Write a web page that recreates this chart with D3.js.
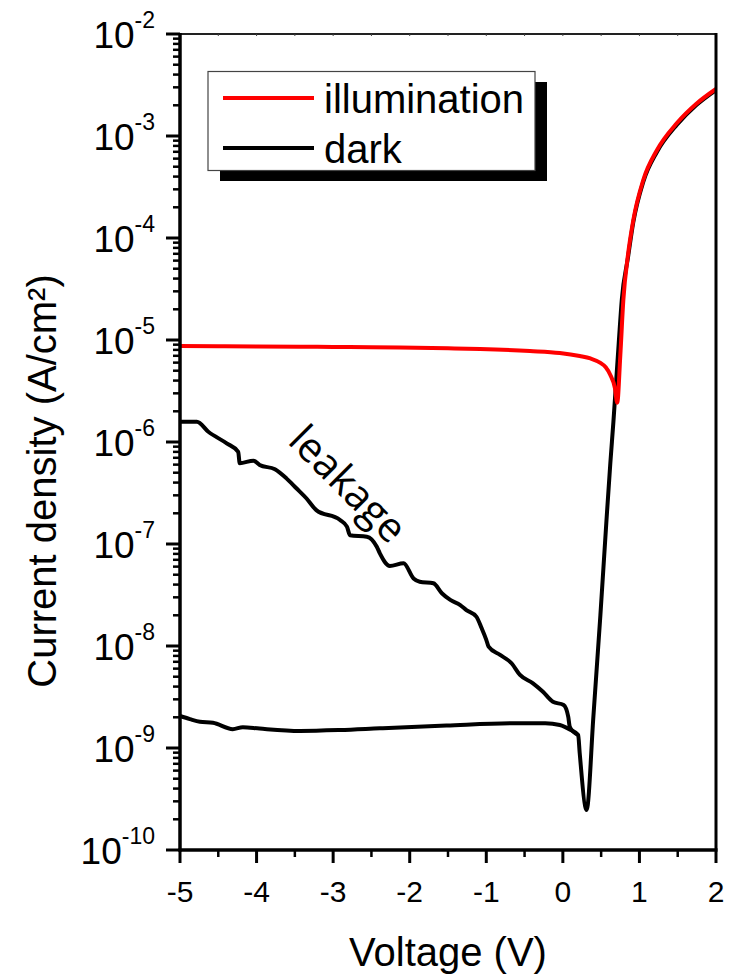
<!DOCTYPE html>
<html>
<head>
<meta charset="utf-8">
<script src="https://cdn.jsdelivr.net/npm/d3@7/dist/d3.min.js"></script>
<style>
  html, body { margin: 0; padding: 0; background: #fff; }
  svg { display: block; }
  text { font-family: "Liberation Sans", Arial, sans-serif; fill: #000; }
</style>
</head>
<body>
<svg id="chart" width="730" height="974"></svg>
<script>
// ---------- data ----------
const illumV = [-5, -4.5, -4, -3.43, -3, -2.5, -2.13, -1.5, -1.08, -0.43, -0.04, 0.22, 0.36, 0.49, 0.56, 0.62, 0.68, 0.71, 0.75, 0.79, 0.85, 0.92, 1.05, 1.23, 1.49, 1.74, 2.0];
const illumJ = [8.73e-6, 8.7e-6, 8.65e-6, 8.6e-6, 8.55e-6, 8.5e-6, 8.45e-6, 8.3e-6, 8.17e-6, 7.8e-6, 7.46e-6, 6.97e-6, 6.6e-6, 5.96e-6, 5.4e-6, 4.54e-6, 3.38e-6, 2.43e-6, 7e-6, 2.47e-5, 6.8e-5, 1.5e-4, 3.7e-4, 7.3e-4, 1.34e-3, 2.06e-3, 2.89e-3];

const darkV = [-5, -4.87, -4.74, -4.57, -4.31, -4.18, -3.96, -3.43, -2.91, -2.39, -1.52, -0.65, -0.23, -0.04, 0.09, 0.2, 0.22, 0.31, 0.4, 0.49, 0.57, 0.62, 0.66, 0.73, 0.77, 0.85, 0.92, 1.05, 1.23, 1.49, 1.74, 2.0];
const darkJ = [2.06e-9, 1.92e-9, 1.81e-9, 1.77e-9, 1.53e-9, 1.6e-9, 1.55e-9, 1.47e-9, 1.5e-9, 1.56e-9, 1.66e-9, 1.75e-9, 1.75e-9, 1.68e-9, 1.52e-9, 1.34e-9, 8.9e-10, 2.47e-10, 2.1e-9, 2.0e-8, 1.72e-7, 6.2e-7, 1.57e-6, 9.4e-6, 2.5e-5, 6.4e-5, 1.43e-4, 3.55e-4, 7.0e-4, 1.29e-3, 2.0e-3, 2.82e-3];

const leakV = [-5, -4.78, -4.63, -4.39, -4.24, -4.22, -4.04, -3.96, -3.76, -3.61, -3.48, -3.35, -3.22, -2.91, -2.82, -2.78, -2.56, -2.43, -2.39, -2.26, -2.08, -1.95, -1.87, -1.69, -1.58, -1.47, -1.34, -1.26, -1.13, -1.06, -1.0, -0.97, -0.82, -0.67, -0.56, -0.39, -0.26, -0.13, 0.01, 0.07, 0.09, 0.14, 0.2];
const leakJ = [1.58e-6, 1.58e-6, 1.26e-6, 9.7e-7, 8.0e-7, 6.2e-7, 6.56e-7, 5.96e-7, 5.4e-7, 4.4e-7, 3.52e-7, 2.81e-7, 2.15e-7, 1.72e-7, 1.48e-7, 1.22e-7, 1.18e-7, 9.4e-8, 8.1e-8, 6.1e-8, 6.47e-8, 4.6e-8, 4.27e-8, 4.12e-8, 3.29e-8, 2.83e-8, 2.52e-8, 2.25e-8, 1.94e-8, 1.49e-8, 1.15e-8, 9.85e-9, 8.17e-9, 6.77e-9, 5.2e-9, 4.31e-9, 3.56e-9, 2.84e-9, 2.64e-9, 2.03e-9, 1.62e-9, 1.44e-9, 1.34e-9];

const xTickValues = [-5, -4, -3, -2, -1, 0, 1, 2];
const yTickExponents = [-10, -9, -8, -7, -6, -5, -4, -3, -2];
const seriesNames = ["illumination", "dark"];
const seriesColors = ["#ff0000", "#000000"];

// ---------- layout ----------
const L = 180, R = 716, T = 34, B = 850;
const svg = d3.select("#chart");

const x = d3.scaleLinear().domain([-5, 2]).range([L, R]);
const y = d3.scaleLog().domain([1e-10, 1e-2]).range([B, T]);

// minor ticks
const yMinor = [];
for (let e = -10; e < -2; e++) for (let m = 2; m <= 9; m++) yMinor.push(m * Math.pow(10, e));
const xMinor = d3.range(-4.5, 2, 1);

// ---------- data lines ----------
const toPts = (V, J) => V.map((v, i) => [v, J[i]]);
const lineMono = d3.line().x(d => x(d[0])).y(d => y(d[1])).curve(d3.curveMonotoneX);

svg.append("path").datum(toPts(leakV, leakJ)).attr("d", lineMono)
  .attr("fill", "none").attr("stroke", "#000").attr("stroke-width", 4).attr("stroke-linejoin", "round");
svg.append("path").datum(toPts(darkV, darkJ)).attr("d", lineMono)
  .attr("fill", "none").attr("stroke", "#000").attr("stroke-width", 4).attr("stroke-linejoin", "round");
svg.append("path").datum(toPts(illumV, illumJ)).attr("d", lineMono)
  .attr("fill", "none").attr("stroke", seriesColors[0]).attr("stroke-width", 4).attr("stroke-linejoin", "round");

// ---------- axes ----------
// top axis (thin, tiny inward ticks)
const topAx = svg.append("g");
topAx.append("line").attr("x1", L).attr("x2", R).attr("y1", T).attr("y2", T)
  .attr("stroke", "#222").attr("stroke-width", 2);
topAx.selectAll("line.t").data(d3.range(-4.5, 2, 0.5)).join("line").attr("class", "t")
  .attr("x1", d => x(d)).attr("x2", d => x(d)).attr("y1", T).attr("y2", T + 2)
  .attr("stroke", "#444").attr("stroke-width", 1);

// right axis
svg.append("line").attr("x1", R).attr("x2", R).attr("y1", T - 1).attr("y2", B)
  .attr("stroke", "#000").attr("stroke-width", 3);

// left axis
const leftAx = svg.append("g");
leftAx.append("line").attr("x1", L).attr("x2", L).attr("y1", T - 1).attr("y2", B + 1.5)
  .attr("stroke", "#000").attr("stroke-width", 3.5);
leftAx.selectAll("line.maj").data(yTickExponents).join("line").attr("class", "maj")
  .attr("x1", L - 14).attr("x2", L).attr("y1", d => y(Math.pow(10, d))).attr("y2", d => y(Math.pow(10, d)))
  .attr("stroke", "#000").attr("stroke-width", 3);
leftAx.selectAll("line.min").data(yMinor).join("line").attr("class", "min")
  .attr("x1", L - 7).attr("x2", L).attr("y1", d => y(d)).attr("y2", d => y(d))
  .attr("stroke", "#000").attr("stroke-width", 2.5);
const yLab = leftAx.selectAll("text.yl").data(yTickExponents).join("text").attr("class", "yl")
  .attr("x", 155).attr("y", d => y(Math.pow(10, d)) + 14)
  .attr("text-anchor", "end");
yLab.append("tspan").attr("font-size", 37).text("10");
yLab.append("tspan").attr("font-size", 23).attr("dy", -20).text(d => String(d));

// bottom axis
const botAx = svg.append("g");
botAx.append("line").attr("x1", L - 1.5).attr("x2", R + 1.5).attr("y1", B).attr("y2", B)
  .attr("stroke", "#000").attr("stroke-width", 3.5);
botAx.selectAll("line.maj").data(xTickValues).join("line").attr("class", "maj")
  .attr("x1", d => x(d)).attr("x2", d => x(d)).attr("y1", B).attr("y2", B + 13)
  .attr("stroke", "#000").attr("stroke-width", 3);
botAx.selectAll("line.min").data(xMinor).join("line").attr("class", "min")
  .attr("x1", d => x(d)).attr("x2", d => x(d)).attr("y1", B).attr("y2", B + 7)
  .attr("stroke", "#000").attr("stroke-width", 2.5);
botAx.selectAll("text.xl").data(xTickValues).join("text").attr("class", "xl")
  .attr("x", d => x(d)).attr("y", 902).attr("text-anchor", "middle").attr("font-size", 30)
  .text(d => String(d));

// axis titles
svg.append("text").attr("x", 448).attr("y", 966).attr("text-anchor", "middle")
  .attr("font-size", 40).text("Voltage (V)");
svg.append("text").attr("transform", "translate(56,481) rotate(-90)").attr("text-anchor", "middle")
  .attr("font-size", 40).text("Current density (A/cm²)");

// ---------- legend ----------
const lg = svg.append("g");
lg.append("rect").attr("x", 220).attr("y", 82).attr("width", 327).attr("height", 99).attr("fill", "#000");
lg.append("rect").attr("x", 208).attr("y", 71.5).attr("width", 327).attr("height", 99)
  .attr("fill", "#fff").attr("stroke", "#444").attr("stroke-width", 1.2);
const rows = lg.selectAll("g.row").data(seriesNames).join("g").attr("class", "row")
  .attr("transform", (d, i) => `translate(0,${98 + i * 50})`);
rows.append("line").attr("x1", 223).attr("x2", 314).attr("y1", 0).attr("y2", 0)
  .attr("stroke", (d, i) => seriesColors[i]).attr("stroke-width", 4);
rows.append("text").attr("x", 324).attr("y", 15).attr("font-size", 40).text(d => d);

// ---------- annotation ----------
svg.append("text").attr("transform", "translate(338,494) rotate(45)").attr("text-anchor", "middle")
  .attr("font-size", 41).style("font-family", "'Open Sans', sans-serif").text("leakage");
</script>
</body>
</html>
